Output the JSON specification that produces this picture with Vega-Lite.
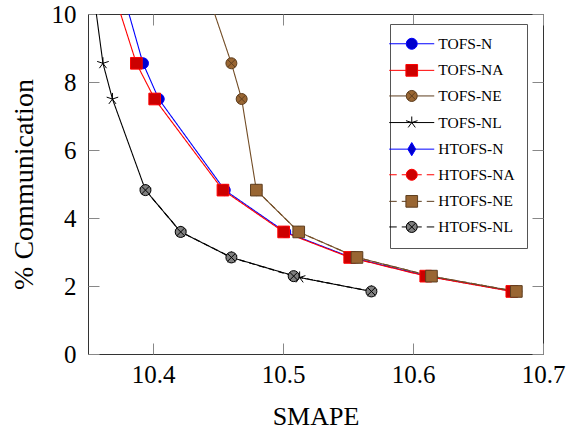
{
  "$schema": "https://vega.github.io/schema/vega-lite/v6.json",
  "width": 455,
  "height": 340,
  "autosize": {"type": "none"},
  "padding": {"left": 88, "top": 14, "right": 29, "bottom": 76},
  "background": "white",
  "config": {
    "view": {"stroke": "#333333", "strokeWidth": 1},
    "axis": {
      "labelFont": "Liberation Serif",
      "titleFont": "Liberation Serif",
      "labelColor": "black",
      "titleColor": "black",
      "titleFontWeight": "normal",
      "tickColor": "#888888",
      "tickWidth": 1,
      "tickSize": -11,
      "domain": false,
      "grid": false,
      "labelFontSize": 25,
      "titleFontSize": 26,
      "labelFlush": false
    },
    "legend": {
      "orient": "none",
      "legendX": 302,
      "legendY": 10,
      "padding": 12,
      "fillColor": "white",
      "strokeColor": "#555555",
      "labelFont": "Liberation Serif",
      "labelFontSize": 15.5,
      "labelFontWeight": "normal",
      "labelColor": "black",
      "rowPadding": 8.6,
      "symbolSize": 121,
      "symbolStrokeWidth": 1,
      "symbolOpacity": 1,
      "symbolOffset": 2,
      "labelOffset": 18.8
    }
  },
  "data": {
    "values": [
      {"series": "TOFS-N", "smape": 10.363, "comm": 12.5},
      {"series": "TOFS-N", "smape": 10.3923, "comm": 8.55},
      {"series": "TOFS-N", "smape": 10.4044, "comm": 7.5},
      {"series": "TOFS-N", "smape": 10.4552, "comm": 4.82},
      {"series": "TOFS-N", "smape": 10.5017, "comm": 3.59},
      {"series": "TOFS-N", "smape": 10.5525, "comm": 2.84},
      {"series": "TOFS-N", "smape": 10.6113, "comm": 2.29},
      {"series": "TOFS-N", "smape": 10.6775, "comm": 1.84},
      {"series": "TOFS-NA", "smape": 10.3543, "comm": 12.5},
      {"series": "TOFS-NA", "smape": 10.3872, "comm": 8.55},
      {"series": "TOFS-NA", "smape": 10.4013, "comm": 7.5},
      {"series": "TOFS-NA", "smape": 10.4538, "comm": 4.82},
      {"series": "TOFS-NA", "smape": 10.5005, "comm": 3.59},
      {"series": "TOFS-NA", "smape": 10.5513, "comm": 2.84},
      {"series": "TOFS-NA", "smape": 10.6098, "comm": 2.29},
      {"series": "TOFS-NA", "smape": 10.676, "comm": 1.84},
      {"series": "TOFS-NE", "smape": 10.4253, "comm": 12.5},
      {"series": "TOFS-NE", "smape": 10.4603, "comm": 8.55},
      {"series": "TOFS-NE", "smape": 10.4682, "comm": 7.5},
      {"series": "TOFS-NE", "smape": 10.4795, "comm": 4.82},
      {"series": "TOFS-NE", "smape": 10.5121, "comm": 3.59},
      {"series": "TOFS-NE", "smape": 10.5569, "comm": 2.84},
      {"series": "TOFS-NE", "smape": 10.6142, "comm": 2.29},
      {"series": "TOFS-NE", "smape": 10.6795, "comm": 1.84},
      {"series": "TOFS-NL", "smape": 10.3477, "comm": 12.5},
      {"series": "TOFS-NL", "smape": 10.3615, "comm": 8.55},
      {"series": "TOFS-NL", "smape": 10.3688, "comm": 7.5},
      {"series": "TOFS-NL", "smape": 10.3942, "comm": 4.82},
      {"series": "TOFS-NL", "smape": 10.4213, "comm": 3.59},
      {"series": "TOFS-NL", "smape": 10.4603, "comm": 2.84},
      {"series": "TOFS-NL", "smape": 10.5128, "comm": 2.25},
      {"series": "TOFS-NL", "smape": 10.568, "comm": 1.84},
      {"series": "HTOFS-NE", "smape": 10.4795, "comm": 4.82},
      {"series": "HTOFS-NE", "smape": 10.5121, "comm": 3.59},
      {"series": "HTOFS-NE", "smape": 10.5569, "comm": 2.84},
      {"series": "HTOFS-NE", "smape": 10.6142, "comm": 2.29},
      {"series": "HTOFS-NE", "smape": 10.6795, "comm": 1.84},
      {"series": "HTOFS-NL", "smape": 10.3942, "comm": 4.82},
      {"series": "HTOFS-NL", "smape": 10.4213, "comm": 3.59},
      {"series": "HTOFS-NL", "smape": 10.4603, "comm": 2.84},
      {"series": "HTOFS-NL", "smape": 10.5082, "comm": 2.29},
      {"series": "HTOFS-NL", "smape": 10.568, "comm": 1.84}
    ]
  },
  "layer": [
    {
      "mark": {"type": "line", "clip": true, "strokeWidth": 1.1},
      "encoding": {
        "x": {
          "field": "smape", "type": "quantitative",
          "scale": {"domain": [10.35, 10.7], "nice": false, "zero": false},
          "axis": {"orient": "bottom", "values": [10.4, 10.5, 10.6, 10.7], "format": ".1f", "labelPadding": 19, "title": "SMAPE", "titlePadding": 16}
        },
        "y": {
          "field": "comm", "type": "quantitative",
          "scale": {"domain": [0, 10], "nice": false, "zero": false},
          "axis": {"orient": "left", "values": [0, 2, 4, 6, 8, 10], "format": "d", "labelPadding": 23, "title": "% Communication", "titlePadding": 13, "titleFontSize": 28}
        },
        "color": {
          "field": "series", "type": "nominal",
          "scale": {
            "domain": ["TOFS-N", "TOFS-NA", "TOFS-NE", "TOFS-NL", "HTOFS-NE", "HTOFS-NL"],
            "range": ["#0000ff", "#ff0000", "#734d26", "#000000", "#734d26", "#000000"]
          },
          "legend": null
        },
        "strokeDash": {
          "field": "series", "type": "nominal",
          "scale": {
            "domain": ["TOFS-N", "TOFS-NA", "TOFS-NE", "TOFS-NL", "HTOFS-NE", "HTOFS-NL"],
            "range": [[1, 0], [1, 0], [1, 0], [1, 0], [6, 4], [6, 4]]
          },
          "legend": null
        }
      }
    },
    {
      "mark": {"type": "point", "clip": true, "size": 121, "opacity": 1, "strokeWidth": 1},
      "encoding": {
        "x": {
          "field": "smape", "type": "quantitative",
          "axis": {"orient": "top", "values": [10.4, 10.5, 10.6, 10.7], "labels": false, "title": null}
        },
        "y": {
          "field": "comm", "type": "quantitative",
          "axis": {"orient": "right", "values": [0, 2, 4, 6, 8, 10], "labels": false, "title": null}
        },
        "shape": {
          "field": "series", "type": "nominal",
          "scale": {
            "domain": ["TOFS-N", "TOFS-NA", "TOFS-NE", "TOFS-NL", "HTOFS-NE", "HTOFS-NL"],
            "range": [
              "M1,0A1,1,0,1,1,-1,0A1,1,0,1,1,1,0Z",
              "M-1.06,-1.06H1.06V1.06H-1.06Z",
              "M1,0A1,1,0,1,1,-1,0A1,1,0,1,1,1,0ZM-0.7,-0.7L0.7,0.7M-0.7,0.7L0.7,-0.7",
              "M0,0V-1.1M0,0L-1.05,-0.34M0,0L-0.65,0.89M0,0L0.65,0.89M0,0L1.05,-0.34",
              "M-1.06,-1.06H1.06V1.06H-1.06Z",
              "M1,0A1,1,0,1,1,-1,0A1,1,0,1,1,1,0ZM-0.7,-0.7L0.7,0.7M-0.7,0.7L0.7,-0.7"
            ]
          },
          "legend": null
        },
        "fill": {
          "field": "series", "type": "nominal",
          "scale": {
            "domain": ["TOFS-N", "TOFS-NA", "TOFS-NE", "TOFS-NL", "HTOFS-N", "HTOFS-NA", "HTOFS-NE", "HTOFS-NL"],
            "range": ["#0000cc", "#cc0000", "#996633", "transparent", "#0000cc", "#cc0000", "#996633", "#808080"]
          },
          "legend": {
            "title": null,
            "encode": {
              "symbols": {
                "update": {
                  "shape": {"signal": "datum.value === 'TOFS-N' ? 'M-4.09,0H-1M1,0H4.09M1,0A1,1,0,1,1,-1,0A1,1,0,1,1,1,0Z' : datum.value === 'TOFS-NA' ? 'M-4.09,0H-1M1,0H4.09M-1.06,-1.06H1.06V1.06H-1.06Z' : datum.value === 'TOFS-NE' ? 'M-4.09,0H-1M1,0H4.09M1,0A1,1,0,1,1,-1,0A1,1,0,1,1,1,0ZM-0.7,-0.7L0.7,0.7M-0.7,0.7L0.7,-0.7' : datum.value === 'TOFS-NL' ? 'M-4.09,0H4.09M0,0V-1.1M0,0L-1.05,-0.34M0,0L-0.65,0.89M0,0L0.65,0.89M0,0L1.05,-0.34' : datum.value === 'HTOFS-N' ? 'M-4.09,0H-0.72M0.72,0H4.09M0,-1.2L0.72,0L0,1.2L-0.72,0Z' : datum.value === 'HTOFS-NA' ? 'M-4.09,0H-2.73M-1.82,0H-1M1,0H1.82M2.73,0H4.09M1,0A1,1,0,1,1,-1,0A1,1,0,1,1,1,0Z' : datum.value === 'HTOFS-NE' ? 'M-4.09,0H-2.73M-1.82,0H-1M1,0H1.82M2.73,0H4.09M-1.06,-1.06H1.06V1.06H-1.06Z' : 'M-4.09,0H-2.73M-1.82,0H-1M1,0H1.82M2.73,0H4.09M1,0A1,1,0,1,1,-1,0A1,1,0,1,1,1,0ZM-0.7,-0.7L0.7,0.7M-0.7,0.7L0.7,-0.7'"}
                }
              }
            }
          }
        },
        "stroke": {
          "field": "series", "type": "nominal",
          "scale": {
            "domain": ["TOFS-N", "TOFS-NA", "TOFS-NE", "TOFS-NL", "HTOFS-N", "HTOFS-NA", "HTOFS-NE", "HTOFS-NL"],
            "range": ["#0000ff", "#ff0000", "#5e3e1f", "#000000", "#0000ff", "#ff0000", "#5e3e1f", "#000000"]
          },
          "legend": {"title": null}
        }
      }
    }
  ]
}
